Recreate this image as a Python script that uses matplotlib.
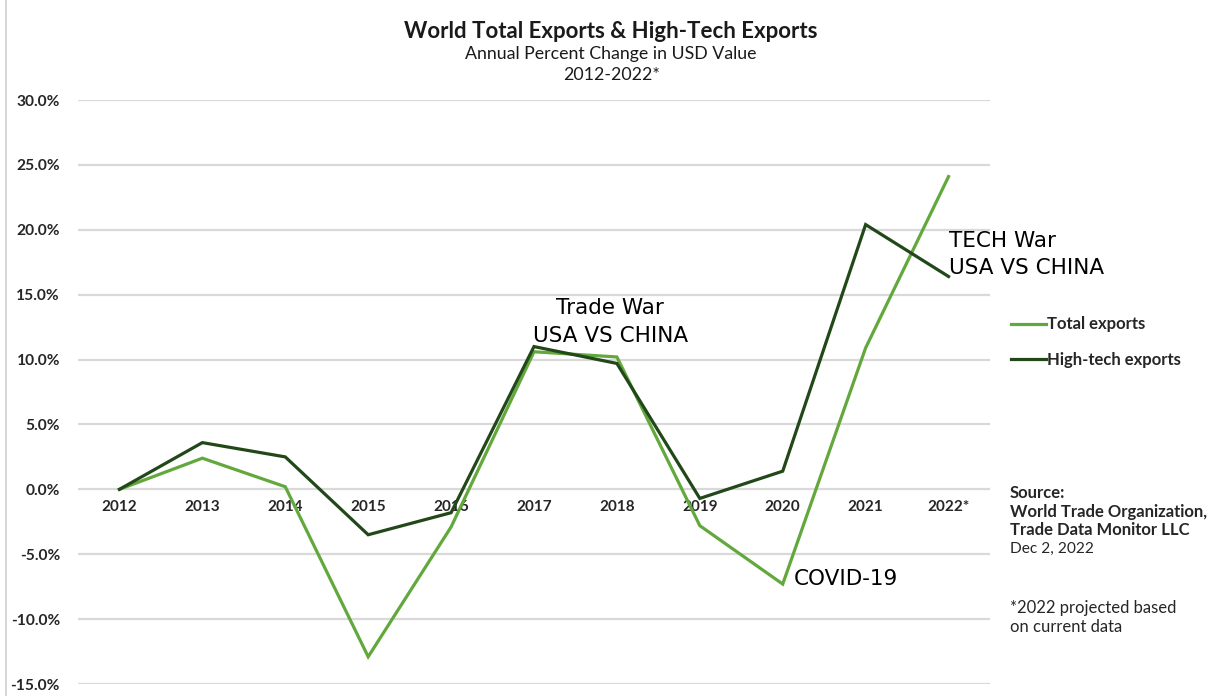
import matplotlib
matplotlib.use("Agg")
import matplotlib.pyplot as plt
from matplotlib.lines import Line2D

# Annual percent change in USD value
years = ["2012", "2013", "2014", "2015", "2016", "2017", "2018", "2019", "2020", "2021", "2022*"]
total_exports = [0.0, 2.4, 0.2, -12.9, -2.9, 10.6, 10.2, -2.8, -7.3, 10.9, 24.1]
hightech_exports = [0.0, 3.6, 2.5, -3.5, -1.8, 11.0, 9.7, -0.7, 1.4, 20.4, 16.4]
y_ticks = [-15, -10, -5, 0, 5, 10, 15, 20, 25, 30]

TOTAL_COLOR = "#62a83c"
HT_COLOR = "#22481a"
TEXT = "#262626"
FONT = "Lato"

fig = plt.figure(figsize=(12.15, 6.96), dpi=100)
ax = fig.add_axes([78 / 1215, 1 - 684 / 696, (990 - 78) / 1215, (684 - 100) / 696])

# Category axis sits on the zero line
ax.spines["bottom"].set_position(("data", 0))
for s in ax.spines.values():
    s.set_visible(False)

x = list(range(len(years)))
ax.plot(x, total_exports, color=TOTAL_COLOR, lw=2.3, solid_joinstyle="miter", zorder=3)
ax.plot(x, hightech_exports, color=HT_COLOR, lw=2.3, solid_joinstyle="miter", zorder=4)

ax.set_xlim(-0.5, len(years) - 0.5)
ax.set_ylim(-15, 30)
ax.set_yticks(y_ticks)
ax.set_yticklabels([f"{v:.1f}%" for v in y_ticks], fontfamily=FONT,
                   fontweight="bold", fontsize=11.2, color=TEXT)
ax.set_xticks(x)
ax.set_xticklabels(years, fontfamily=FONT, fontweight="bold", fontsize=11, color=TEXT)

ax.tick_params(axis="y", length=0, pad=13)
ax.tick_params(axis="x", length=0, pad=8)
ax.grid(axis="y", color="#d9d9d9", lw=1.6)
ax.set_axisbelow(True)

# Titles
fig.text(0.503, 1 - 31 / 696, "World Total Exports & High-Tech Exports", ha="center", va="center",
         fontfamily=FONT, fontweight="bold", fontsize=16, color="#1a1a1a")
fig.text(0.503, 1 - 54 / 696, "Annual Percent Change in USD Value", ha="center", va="center",
         fontfamily=FONT, fontsize=12.8, color="#1a1a1a")
fig.text(0.503, 1 - 75 / 696, "2012-2022*", ha="center", va="center",
         fontfamily=FONT, fontsize=12.8, color="#1a1a1a")

# Event annotations
ann = dict(fontfamily="DejaVu Sans", fontsize=15.5, color="black", linespacing=1.45)
ax.text(5.92, 12.9, "Trade War\nUSA VS CHINA", ha="center", va="center", **ann)
ax.text(10.0, 18.1, "TECH War\nUSA VS CHINA", ha="left", va="center", **ann)
ax.text(8.13, -6.9, "COVID-19", ha="left", va="center", **ann)

# Legend
handles = [Line2D([], [], color=TOTAL_COLOR, lw=2.3),
           Line2D([], [], color=HT_COLOR, lw=2.3)]
leg = fig.legend(handles, ["Total exports", "High-tech exports"], loc="center left",
                 bbox_to_anchor=(998 / 1215, 1 - 342 / 696), frameon=False,
                 handlelength=2.1, handletextpad=0.05, labelspacing=1.15,
                 borderpad=0.3, prop={"family": FONT, "weight": "bold", "size": 12})
for t in leg.get_texts():
    t.set_color(TEXT)

# Source notes
src_x = 1010 / 1215
notes = [("Source:", 493, "bold", 12),
         ("World Trade Organization,", 512, "bold", 12),
         ("Trade Data Monitor LLC", 530, "bold", 12),
         ("Dec 2, 2022", 549, "normal", 11.2),
         ("*2022 projected based", 608, "normal", 12),
         ("on current data", 627, "normal", 12)]
for txt, yy, w, sz in notes:
    fig.text(src_x, 1 - yy / 696, txt, ha="left", va="center", fontfamily=FONT,
             fontweight=w, fontsize=sz, color=TEXT)

# Frame edge on the left
fig.add_artist(Line2D([6 / 1215, 6 / 1215], [0, 1], color="#d0d0d0", lw=1.2))

fig.savefig("out.png", dpi=100, facecolor="white")
